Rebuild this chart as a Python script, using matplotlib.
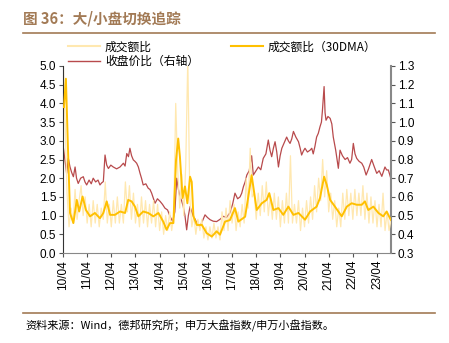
import numpy as np
import matplotlib
matplotlib.use("Agg")
import matplotlib.pyplot as plt
from matplotlib.lines import Line2D

plt.rcParams['font.family'] = ['Liberation Sans', 'Noto Sans CJK SC', 'DejaVu Sans']

# raw daily-ish turnover ratio, sampled monthly from 2010-04 to 2023-11
raw_start = 2010.25
raw_vals = [
    5.3, 3.6, 1.6, 0.7, 1.2, 0.8, 1.7, 0.9, 1.4,
    1.8, 1.0, 1.5, 0.8, 1.3, 0.7, 1.4, 0.8, 1.3, 0.7, 1.2, 0.9,
    1.9, 0.8, 1.3, 0.7, 1.4, 0.8, 1.5, 0.8, 1.3, 0.8, 1.9, 1.1,
    1.8, 0.9, 1.6, 0.8, 1.3, 0.7, 1.5, 0.8, 1.4, 0.7, 1.3, 0.8,
    1.4, 0.7, 1.3, 0.6, 1.1, 0.5, 1.0, 0.6, 1.1, 0.6, 1.0, 4.0,
    2.2, 1.2, 2.1, 1.0, 2.4, 5.2, 1.5, 0.7, 1.0, 0.5, 0.9, 0.6,
    0.9, 0.4, 0.7, 0.35, 0.7, 0.4, 0.8, 0.4, 0.7, 0.35, 1.1, 0.6,
    1.2, 0.6, 1.4, 0.8, 1.3, 0.6, 1.1, 0.7, 1.3, 0.8, 2.0, 1.2,
    2.8, 1.5, 1.6, 0.9, 1.6, 1.0, 1.8, 1.1, 1.9, 1.0, 1.5, 0.9,
    1.6, 0.9, 1.5, 0.7, 1.4, 0.8, 1.6, 0.8, 2.6, 0.8, 1.3, 0.8,
    1.4, 0.6, 1.2, 0.7, 1.4, 0.8, 1.5, 0.9, 1.8, 1.1, 2.0, 1.4,
    2.5, 1.5, 2.2, 1.1, 1.6, 0.9, 1.4, 0.7, 1.2, 0.7, 1.6, 0.9,
    1.7, 1.0, 1.6, 0.9, 1.7, 1.0, 1.6, 1.0, 1.8, 0.9, 1.6, 0.8,
    1.5, 0.8, 1.4, 0.7, 1.3, 0.7, 1.6, 0.6, 1.1, 0.6, 0.9,
]

# 30-day moving average of the turnover ratio (left axis)
ma_years = [
    2010.29, 2010.37, 2010.47, 2010.54, 2010.68, 2010.82, 2010.92, 2011.06, 2011.20,
    2011.37, 2011.57, 2011.78, 2011.92, 2012.06, 2012.20, 2012.40, 2012.61, 2012.82,
    2012.95, 2013.09, 2013.23, 2013.37, 2013.57, 2013.78, 2013.99, 2014.20, 2014.40,
    2014.54, 2014.68, 2014.82, 2014.93, 2015.02, 2015.09, 2015.20, 2015.30, 2015.40,
    2015.51, 2015.58, 2015.65, 2015.79, 2016.00, 2016.20, 2016.41, 2016.61, 2016.75,
    2016.96, 2017.16, 2017.37, 2017.51, 2017.79, 2017.92, 2018.06, 2018.13, 2018.27,
    2018.48, 2018.68, 2018.79, 2018.96, 2019.17, 2019.37, 2019.58, 2019.79, 2020.00,
    2020.27, 2020.48, 2020.75, 2020.89, 2021.06, 2021.17, 2021.31, 2021.51, 2021.79,
    2022.00, 2022.20, 2022.41, 2022.62, 2022.75, 2022.89, 2023.10, 2023.31, 2023.51,
    2023.65, 2023.82,
]
ma_vals = [
    3.9, 4.66, 2.5, 1.07, 0.80, 1.42, 1.11, 1.51, 1.15,
    0.98, 1.07, 0.93, 1.07, 1.38, 1.02, 1.02, 1.11, 1.07,
    1.42, 1.38, 1.24, 0.98, 1.11, 1.07, 0.98, 1.07, 0.84,
    0.62, 0.80, 0.80, 2.49, 3.06, 2.58, 1.47, 1.78, 1.33,
    2.04, 1.90, 0.98, 0.75, 0.75, 0.53, 0.44, 0.58, 0.49,
    0.84, 0.88, 1.20, 0.84, 0.97, 1.50, 2.08, 1.77, 1.15,
    1.33, 1.42, 1.60, 1.15, 1.20, 1.02, 1.24, 1.02, 1.07,
    0.89, 1.11, 1.24, 1.47, 2.04, 1.82, 1.42, 1.24, 0.98,
    1.24, 1.33, 1.29, 1.29, 1.38, 1.15, 1.24, 1.07, 0.98,
    1.11, 0.89,
]

# close price ratio, large/small cap (right axis)
px_years = [
    2010.26, 2010.33, 2010.40, 2010.47, 2010.54, 2010.61, 2010.68, 2010.75, 2010.81,
    2010.88, 2010.98, 2011.09, 2011.16, 2011.23, 2011.33, 2011.42, 2011.50, 2011.60,
    2011.70, 2011.78, 2011.85, 2011.92, 2011.99, 2012.06, 2012.13, 2012.23, 2012.33,
    2012.47, 2012.61, 2012.68, 2012.75, 2012.82, 2012.89, 2012.96, 2013.02, 2013.09,
    2013.16, 2013.23, 2013.30, 2013.37, 2013.44, 2013.50, 2013.57, 2013.68, 2013.78,
    2013.85, 2013.92, 2014.06, 2014.16, 2014.27, 2014.37, 2014.47, 2014.58, 2014.68,
    2014.79, 2014.88, 2014.96, 2015.03, 2015.09, 2015.16, 2015.23, 2015.30, 2015.37,
    2015.44, 2015.51, 2015.58, 2015.65, 2015.72, 2015.79, 2015.86, 2015.92, 2016.02,
    2016.13, 2016.23, 2016.34, 2016.47, 2016.61, 2016.75, 2016.89, 2017.02, 2017.16,
    2017.27, 2017.37, 2017.48, 2017.58, 2017.65, 2017.72, 2017.79, 2017.86, 2017.96,
    2018.06, 2018.13, 2018.24, 2018.34, 2018.44, 2018.54, 2018.65, 2018.75, 2018.82,
    2018.89, 2018.96, 2019.03, 2019.10, 2019.17, 2019.24, 2019.31, 2019.41, 2019.51,
    2019.58, 2019.65, 2019.72, 2019.79, 2019.89, 2020.00, 2020.07, 2020.13, 2020.20,
    2020.27, 2020.37, 2020.48, 2020.55, 2020.61, 2020.68, 2020.75, 2020.82, 2020.89,
    2020.95, 2020.99, 2021.06, 2021.10, 2021.14, 2021.22, 2021.31, 2021.38, 2021.44,
    2021.54, 2021.65, 2021.72, 2021.82, 2021.93, 2022.03, 2022.13, 2022.20, 2022.27,
    2022.34, 2022.41, 2022.51, 2022.62, 2022.70, 2022.80, 2022.90, 2023.03, 2023.14,
    2023.24, 2023.34, 2023.45, 2023.58, 2023.65, 2023.72, 2023.82,
]
px_vals = [
    0.868, 0.798, 0.726, 0.806, 0.760, 0.730, 0.708, 0.760, 0.700,
    0.672, 0.700, 0.708, 0.680, 0.664, 0.690, 0.670, 0.700, 0.680,
    0.690, 0.664, 0.675, 0.682, 0.824, 0.770, 0.752, 0.770, 0.760,
    0.750, 0.760, 0.770, 0.780, 0.765, 0.832, 0.815, 0.860, 0.820,
    0.798, 0.790, 0.780, 0.760, 0.726, 0.700, 0.664, 0.670, 0.646,
    0.640, 0.620, 0.566, 0.590, 0.576, 0.560, 0.540, 0.530, 0.496,
    0.468, 0.520, 0.700, 0.640, 0.600, 0.580, 0.548, 0.500, 0.424,
    0.500, 0.548, 0.520, 0.496, 0.480, 0.460, 0.450, 0.442, 0.470,
    0.504, 0.490, 0.478, 0.470, 0.468, 0.480, 0.496, 0.490, 0.515,
    0.560, 0.620, 0.590, 0.600, 0.620, 0.655, 0.680, 0.717, 0.740,
    0.820, 0.717, 0.740, 0.760, 0.745, 0.806, 0.830, 0.904, 0.850,
    0.815, 0.860, 0.895, 0.840, 0.760, 0.820, 0.860, 0.890, 0.920,
    0.900, 0.886, 0.910, 0.950, 0.920, 0.895, 0.860, 0.824, 0.845,
    0.860, 0.840, 0.850, 0.860, 0.830, 0.870, 0.920, 0.940, 0.975,
    1.000, 1.060, 1.190, 1.050, 1.010, 1.030, 1.020, 0.990, 0.920,
    0.850, 0.753, 0.850, 0.820, 0.800, 0.810, 0.780, 0.800, 0.886,
    0.830, 0.806, 0.790, 0.780, 0.760, 0.717, 0.750, 0.800, 0.760,
    0.726, 0.740, 0.710, 0.760, 0.744, 0.744, 0.700,
]

tick_years = list(range(2010, 2024))
tick_labels = [f"{y % 100:02d}/04" for y in tick_years]

raw_years = raw_start + np.arange(len(raw_vals)) / 12.0

pale = '#FFE8B0'
orange = '#FFC000'
red = '#B84A4C'
brown = '#A27A55'

fig = plt.figure(figsize=(4.49, 3.43), dpi=100)
ax = fig.add_axes([63 / 449, 1 - 253 / 343, 328 / 449, 187 / 343])
ax2 = ax.twinx()

ax.plot(raw_years, raw_vals, color=pale, lw=0.9, zorder=1)
ax.plot(ma_years, ma_vals, color=orange, lw=1.4, zorder=3)
ax2.plot(px_years, px_vals, color=red, lw=0.9)

ax.set_zorder(ax2.get_zorder() + 1)
ax.patch.set_visible(False)

ax.set_xlim(2010.25, 2023.83)
ax.set_ylim(0, 5)
ax2.set_ylim(0.3, 1.3)
ax.set_yticks(np.arange(0, 5.01, 0.5))
ax.set_yticklabels([f"{v:.1f}" for v in np.arange(0, 5.01, 0.5)], fontsize=8.5)
ax2.set_yticks(np.arange(0.3, 1.31, 0.1))
ax2.set_yticklabels([f"{v:.1f}" for v in np.arange(0.3, 1.31, 0.1)], fontsize=8.5)
ax.set_xticks([y + 0.25 for y in tick_years])
ax.set_xticklabels(tick_labels, rotation=90, fontsize=8.5)

for a in (ax, ax2):
    a.spines['top'].set_visible(False)
    a.tick_params(length=3, width=0.8, color='#555555', pad=2)
ax.spines['left'].set_color('#333333')
ax.spines['bottom'].set_color('#888888')
ax.spines['right'].set_visible(False)
ax2.spines['left'].set_visible(False)
ax2.spines['bottom'].set_visible(False)
ax2.spines['right'].set_color('#888888')
ax2.spines['right'].set_linewidth(1.5)

handles = [
    Line2D([], [], color=pale, lw=1.5),
    Line2D([], [], color=red, lw=1.0),
    Line2D([], [], color=orange, lw=1.5),
]
labels = ['成交额比', '收盘价比（右轴）', '成交额比（30DMA）']
fig.legend(handles, labels, ncol=2, loc='upper left',
           bbox_to_anchor=(60 / 449, 1 - 32 / 343), frameon=False,
           prop={'family': ['Noto Sans CJK SC', 'DejaVu Sans'], 'size': 8.5},
           handlelength=2.7, handletextpad=0.4, columnspacing=2.7,
           labelspacing=0.15, borderpad=0.2)

fig.text(23 / 449, 1 - 19 / 343, '图 36：大/小盘切换追踪', color=brown,
         fontsize=10.5, fontweight='bold', va='center', ha='left',
         family=['Noto Sans CJK SC', 'DejaVu Sans'])
fig.add_artist(Line2D([23 / 449, 435 / 449], [1 - 33 / 343, 1 - 33 / 343],
                      color=brown, lw=1.2))
fig.add_artist(Line2D([23 / 449, 435 / 449], [1 - 313 / 343, 1 - 313 / 343],
                      color=brown, lw=1.2))
fig.text(25 / 449, 1 - 326 / 343,
         '资料来源：Wind，德邦研究所；申万大盘指数/申万小盘指数。',
         fontsize=8, va='center', ha='left',
         family=['Noto Sans CJK SC', 'DejaVu Sans'])

fig.savefig('out.png', dpi=100)
